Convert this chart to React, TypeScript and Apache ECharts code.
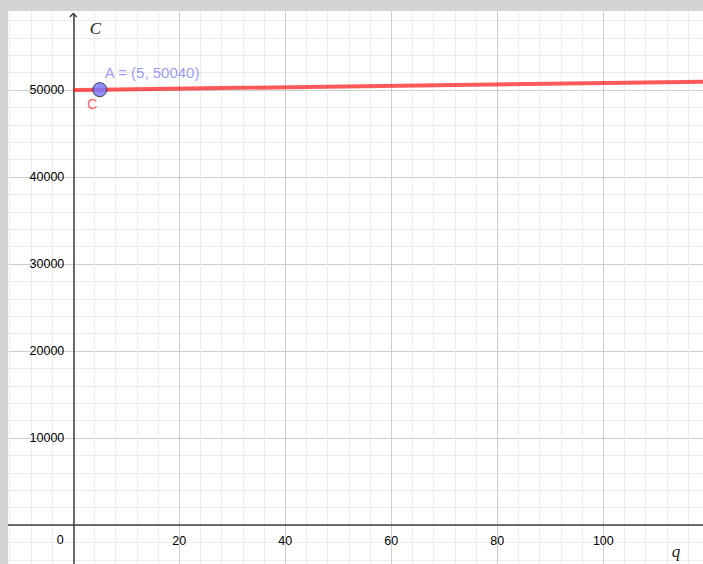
import React, { useEffect, useRef } from "react";
import * as echarts from "echarts";

// Data
const qValues = [0, 5, 120];
const costValues = [50000, 50040, 50960];
const pointA: [number, number] = [5, 50040];
const pointALabel = "A = (5, 50040)";
const curveName = "C";
const xTickLabels = [20, 40, 60, 80, 100];
const yTickLabels = [10000, 20000, 30000, 40000, 50000];
const originLabel = "0";
const xAxisName = "q";
const yAxisName = "C";

const X_MIN = -20;
const X_MAX = 120;
const Y_MIN = -10000;
const Y_MAX = 60000;

const W = 703;
const H = 564;

export default function App() {
  const ref = useRef<HTMLDivElement>(null);

  useEffect(() => {
    if (!ref.current) return;
    const chart = echarts.init(ref.current, null, { renderer: "svg" });
    const font = "Liberation Sans";
    const minorColor = "#ececec";
    const majorColor = "#cdcdcd";
    const axisColor = "#404040";

    const hidden = {
      axisLine: { show: false },
      axisTick: { show: false },
      axisLabel: { show: false },
    };

    // pixel geometry of the full grid (grid 0) and the label grid (grid 1)
    const gLeft = -32.7;
    const gRight = -6.3;
    const gTop = 3;
    const gBottom = -48;

    const option: any = {
      animation: false,
      backgroundColor: "#ffffff",
      grid: [
        {
          left: gLeft,
          right: gRight,
          top: gTop,
          bottom: gBottom,
          containLabel: false,
          outerBoundsMode: "none",
        },
        {
          left: 73.3,
          right: gRight,
          top: gTop,
          bottom: 39,
          containLabel: false,
          outerBoundsMode: "none",
        },
      ],
      xAxis: [
        {
          type: "value",
          gridIndex: 0,
          position: "bottom",
          min: X_MIN,
          max: X_MAX,
          interval: 4,
          ...hidden,
          splitLine: { show: true, lineStyle: { color: minorColor, width: 1 } },
        },
        {
          type: "value",
          gridIndex: 0,
          position: "bottom",
          min: X_MIN,
          max: X_MAX,
          interval: 20,
          axisLine: {
            show: true,
            onZero: true,
            lineStyle: { color: axisColor, width: 1.5 },
          },
          axisTick: { show: false },
          axisLabel: { show: false },
          splitLine: { show: true, lineStyle: { color: majorColor, width: 1 } },
        },
        {
          type: "value",
          gridIndex: 1,
          position: "bottom",
          min: 0,
          max: X_MAX,
          interval: 20,
          axisLine: { show: false },
          axisTick: { show: false },
          splitLine: { show: false },
          axisLabel: {
            show: true,
            customValues: xTickLabels,
            formatter: (v: number) => String(v),
            margin: 9,
            color: "#000",
            fontFamily: font,
            fontSize: 12.5,
          },
        },
      ],
      yAxis: [
        {
          type: "value",
          gridIndex: 0,
          position: "left",
          min: Y_MIN,
          max: Y_MAX,
          interval: 2000,
          ...hidden,
          splitLine: { show: true, lineStyle: { color: minorColor, width: 1 } },
        },
        {
          type: "value",
          gridIndex: 0,
          position: "left",
          min: Y_MIN,
          max: Y_MAX,
          interval: 10000,
          axisLine: {
            show: true,
            onZero: true,
            lineStyle: { color: axisColor, width: 1.5 },
          },
          axisTick: { show: false },
          axisLabel: { show: false },
          splitLine: { show: true, lineStyle: { color: majorColor, width: 1 } },
        },
        {
          type: "value",
          gridIndex: 1,
          position: "left",
          min: 0,
          max: Y_MAX,
          interval: 10000,
          axisLine: { show: false },
          axisTick: { show: false },
          splitLine: { show: false },
          axisLabel: {
            show: true,
            customValues: yTickLabels,
            formatter: (v: number) => String(v),
            margin: 9,
            color: "#000",
            fontFamily: font,
            fontSize: 12.5,
          },
        },
      ],
      series: [
        {
          type: "line",
          xAxisIndex: 0,
          yAxisIndex: 0,
          data: qValues.map((q, i) => [q, costValues[i]]),
          showSymbol: false,
          lineStyle: { color: "rgba(255,0,0,0.65)", width: 4 },
          z: 3,
        },
        {
          type: "scatter",
          xAxisIndex: 0,
          yAxisIndex: 0,
          data: [[qValues[0], costValues[0]]],
          symbolSize: 1,
          itemStyle: { color: "transparent" },
          label: {
            show: true,
            position: "inside",
            offset: [19, 13.5],
            formatter: curveName,
            color: "#ff2a2a",
            fontFamily: font,
            fontSize: 14,
          },
          z: 4,
        },
        {
          type: "scatter",
          xAxisIndex: 0,
          yAxisIndex: 0,
          data: [pointA],
          symbolSize: 14,
          itemStyle: { color: "#7474ff", borderColor: "#202020", borderWidth: 1 },
          label: {
            show: true,
            position: [12.5, -10],
            verticalAlign: "middle",
            align: "left",
            formatter: pointALabel,
            color: "#7f7fff",
            fontFamily: font,
            fontSize: 15,
          },
          z: 5,
        },
      ],
    };

    chart.setOption(option);

    const axisX = chart.convertToPixel({ xAxisIndex: 0 }, 0) as number;
    const axisY = chart.convertToPixel({ yAxisIndex: 0 }, 0) as number;
    const topEdge = 11;
    const leftEdge = 8;
    const tipY = topEdge + 2.5;

    chart.setOption({
      graphic: [
        {
          type: "rect",
          z: 100,
          shape: { x: axisX - 3, y: topEdge, width: 6, height: tipY - topEdge },
          style: { fill: "#ffffff" },
        },
        {
          type: "polyline",
          z: 101,
          shape: {
            points: [
              [axisX - 3.5, tipY + 3.5],
              [axisX, tipY],
              [axisX + 3.5, tipY + 3.5],
            ],
          },
          style: { stroke: axisColor, lineWidth: 1.5, fill: null },
        },
        {
          type: "text",
          z: 101,
          x: axisX + 22,
          y: 28,
          style: {
            text: yAxisName,
            fontFamily: "Liberation Serif",
            fontStyle: "italic",
            fontSize: 17,
            fill: "#222",
            align: "center",
            verticalAlign: "middle",
          },
        },
        {
          type: "text",
          z: 101,
          x: 676,
          y: axisY + 26,
          style: {
            text: xAxisName,
            fontFamily: "Liberation Serif",
            fontStyle: "italic",
            fontSize: 17,
            fill: "#222",
            align: "center",
            verticalAlign: "middle",
          },
        },
        {
          type: "text",
          z: 101,
          x: axisX - 13,
          y: axisY + 15,
          style: {
            text: originLabel,
            fontFamily: font,
            fontSize: 12.5,
            fill: "#000",
            align: "center",
            verticalAlign: "middle",
          },
        },
        {
          type: "rect",
          z: 200,
          shape: { x: 0, y: 0, width: W, height: topEdge },
          style: { fill: "#d3d4d6" },
        },
        {
          type: "rect",
          z: 200,
          shape: { x: 0, y: 0, width: leftEdge, height: H },
          style: { fill: "#d3d4d6" },
        },
      ],
    });

    return () => chart.dispose();
  }, []);

  return (
    <div
      ref={ref}
      style={{ position: "fixed", left: 0, top: 0, width: W, height: H }}
    />
  );
}
